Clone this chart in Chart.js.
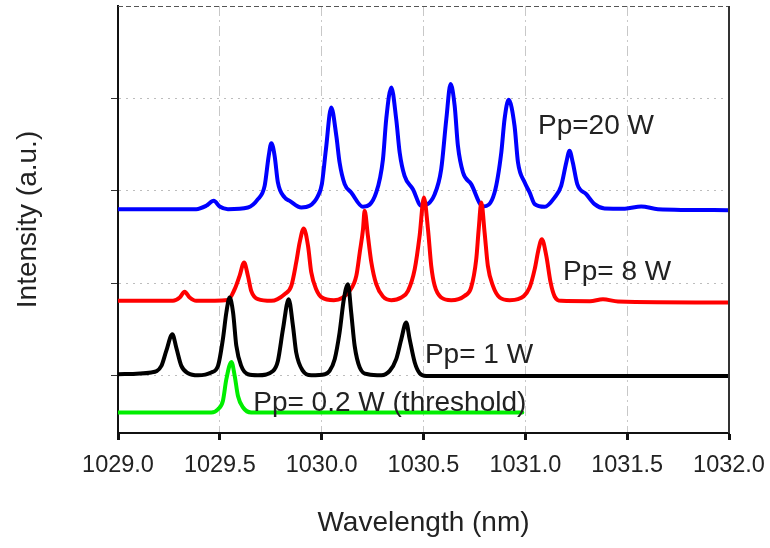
<!DOCTYPE html>
<html>
<head>
<meta charset="utf-8">
<script src="https://cdn.jsdelivr.net/npm/chart.js@4.4.1/dist/chart.umd.min.js"></script>
<style>
html,body{margin:0;padding:0;background:#ffffff;}
#wrap{width:770px;height:548px;position:relative;}
</style>
</head>
<body>
<div id="wrap"><canvas id="c" width="770" height="548"></canvas></div>
<script>
// ---- data: [wavelength (nm), intensity (a.u., offset per trace)] ----
const series20W = [
  [1029.000,1.802],[1029.384,1.802],[1029.433,1.838],[1029.470,1.892],[1029.499,1.831],[1029.540,1.802],
  [1029.638,1.820],[1029.687,1.910],[1029.720,2.054],[1029.740,2.379],[1029.753,2.516],[1029.769,2.379],
  [1029.785,2.091],[1029.818,1.929],[1029.843,1.892],[1029.900,1.820],[1029.941,1.838],[1029.982,1.946],
  [1030.001,2.073],[1030.021,2.451],[1030.047,2.903],[1030.072,2.595],[1030.088,2.307],[1030.113,2.073],
  [1030.145,1.983],[1030.203,1.827],[1030.268,1.983],[1030.301,2.343],[1030.317,2.776],[1030.342,3.119],
  [1030.366,2.776],[1030.383,2.416],[1030.407,2.162],[1030.448,2.018],[1030.489,1.838],[1030.555,1.964],
  [1030.587,2.235],[1030.612,2.776],[1030.633,3.155],[1030.653,2.920],[1030.669,2.487],[1030.694,2.199],
  [1030.734,2.073],[1030.792,1.831],[1030.849,1.983],[1030.882,2.416],[1030.898,2.776],[1030.918,2.985],
  [1030.947,2.703],[1030.964,2.307],[1030.997,2.091],[1031.021,1.983],[1031.046,1.856],[1031.095,1.827],
  [1031.144,1.929],[1031.176,2.054],[1031.201,2.307],[1031.217,2.433],[1031.233,2.307],[1031.255,2.073],
  [1031.299,1.964],[1031.340,1.856],[1031.389,1.810],[1031.489,1.807],[1031.569,1.831],[1031.651,1.802],
  [1032.000,1.791]
];
const series8W = [
  [1029.000,0.810],[1029.270,0.810],[1029.303,0.846],[1029.327,0.907],[1029.352,0.846],[1029.384,0.810],
  [1029.540,0.820],[1029.573,0.936],[1029.597,1.080],[1029.619,1.225],[1029.638,1.080],[1029.654,0.918],
  [1029.687,0.828],[1029.753,0.810],[1029.818,0.882],[1029.851,0.972],[1029.875,1.225],[1029.892,1.442],
  [1029.912,1.593],[1029.933,1.405],[1029.949,1.117],[1029.973,0.936],[1030.001,0.846],[1030.060,0.817],
  [1030.137,0.918],[1030.170,1.080],[1030.187,1.333],[1030.203,1.585],[1030.211,1.784],[1030.227,1.513],
  [1030.244,1.225],[1030.268,0.990],[1030.301,0.857],[1030.342,0.817],[1030.391,0.846],[1030.424,0.918],
  [1030.457,1.153],[1030.481,1.513],[1030.502,1.929],[1030.522,1.585],[1030.538,1.188],[1030.555,0.972],
  [1030.587,0.846],[1030.636,0.817],[1030.702,0.864],[1030.734,0.955],[1030.759,1.261],[1030.771,1.585],
  [1030.784,1.874],[1030.800,1.550],[1030.816,1.188],[1030.841,0.972],[1030.874,0.846],[1030.923,0.817],
  [1030.964,0.828],[1031.021,0.955],[1031.046,1.153],[1031.065,1.369],[1031.081,1.477],[1031.103,1.297],
  [1031.124,1.009],[1031.144,0.857],[1031.176,0.810],[1031.317,0.806],[1031.381,0.828],[1031.455,0.803],
  [1032.000,0.792]
];
const series1W = [
  [1029.000,0.016],[1029.163,0.035],[1029.213,0.106],[1029.237,0.268],[1029.267,0.449],[1029.286,0.305],
  [1029.311,0.106],[1029.344,0.027],[1029.393,0.005],[1029.458,0.035],[1029.491,0.106],[1029.515,0.395],
  [1029.532,0.684],[1029.548,0.846],[1029.565,0.684],[1029.581,0.323],[1029.605,0.106],[1029.638,0.016],
  [1029.687,0.005],[1029.761,0.052],[1029.785,0.160],[1029.810,0.503],[1029.838,0.828],[1029.859,0.539],
  [1029.875,0.251],[1029.908,0.052],[1029.949,0.005],[1030.016,0.016],[1030.039,0.052],[1030.064,0.179],
  [1030.088,0.468],[1030.109,0.828],[1030.129,0.990],[1030.145,0.684],[1030.162,0.323],[1030.187,0.089],
  [1030.227,0.016],[1030.293,0.005],[1030.334,0.052],[1030.366,0.179],[1030.391,0.395],[1030.415,0.576],
  [1030.432,0.395],[1030.457,0.143],[1030.481,0.027],[1030.513,-0.002],[1032.000,-0.002]
];
const series02W = [
  [1029.000,-0.398],[1029.458,-0.398],[1029.491,-0.363],[1029.515,-0.273],[1029.532,-0.038],
  [1029.557,0.149],[1029.573,-0.002],[1029.589,-0.219],[1029.614,-0.344],[1029.654,-0.398],
  [1030.985,-0.398]
];
const xTickValues = [1029.0,1029.5,1030.0,1030.5,1031.0,1031.5,1032.0];
const yTickValues = [0,1,2,3];
const traceLabels = ['Pp=20 W','Pp= 8 W','Pp= 1 W','Pp= 0.2 W (threshold)'];
const labelAnchors = [[1031.062,2.614],[1031.185,1.037],[1030.507,0.135],[1029.664,-0.387]];

const FONT = "'Liberation Sans', Arial, Helvetica, sans-serif";
Chart.defaults.font.family = FONT;

function toXY(arr){ return arr.map(p => ({x:p[0], y:p[1]})); }
function ds(arr, color){
  return {data: toXY(arr), borderColor: color, backgroundColor: color, borderWidth: 4,
          pointRadius: 0, fill: false, cubicInterpolationMode: 'monotone',
          borderJoinStyle: 'round', borderCapStyle: 'round'};
}

const overlayPlugin = {
  id: 'overlay',
  afterDatasetsDraw(chart){
    const {ctx, chartArea:a, scales} = chart;
    ctx.save();
    ctx.strokeStyle = '#555';
    ctx.lineWidth = 1;
    ctx.setLineDash([5,3]);
    ctx.beginPath(); ctx.moveTo(a.left, a.top + 0.5); ctx.lineTo(a.right, a.top + 0.5); ctx.stroke();
    ctx.setLineDash([]);
    ctx.strokeStyle = '#333';
    ctx.lineWidth = 2;
    ctx.beginPath(); ctx.moveTo(a.right, a.top); ctx.lineTo(a.right, a.bottom); ctx.stroke();
    ctx.fillStyle = '#222';
    ctx.font = "28px " + FONT;
    ctx.textAlign = 'left';
    ctx.textBaseline = 'alphabetic';
    traceLabels.forEach((t, i) => {
      const px = scales.x.getPixelForValue(labelAnchors[i][0]);
      const py = scales.y.getPixelForValue(labelAnchors[i][1]);
      ctx.fillText(t, px, py);
    });
    ctx.restore();
  }
};

new Chart(document.getElementById('c'), {
  type: 'line',
  data: {
    datasets: [
      ds(series02W, '#00ee00'),
      ds(series1W, '#000000'),
      ds(series8W, '#ff0000'),
      ds(series20W, '#0000ff')
    ]
  },
  options: {
    responsive: false,
    animation: false,
    devicePixelRatio: 1,
    layout: {padding: {top: 6, right: 41, bottom: 0, left: 0}},
    plugins: {legend: {display: false}, tooltip: {enabled: false}},
    scales: {
      x: {
        type: 'linear', min: 1029, max: 1032,
        afterFit(s){ s.height = 115; s.paddingRight = 0; s.paddingLeft = 0; },
        afterBuildTicks(s){ s.ticks = xTickValues.map(v => ({value: v})); },
        ticks: {
          color: '#222', padding: 11, maxRotation: 0, autoSkip: false,
          font: {size: 23.5},
          callback: v => Number(v).toFixed(1)
        },
        grid: {
          color: '#c8c8c8', lineWidth: 1, drawTicks: true, tickLength: 7,
          tickWidth: 3, tickColor: '#111'
        },
        border: {display: true, color: '#111', width: 2, dash: [10,4,2,4]},
        title: {display: true, text: 'Wavelength (nm)', color: '#222',
                font: {size: 28}, padding: {top: 0, bottom: 8}}
      },
      y: {
        type: 'linear', min: -0.62, max: 4.0,
        afterFit(s){ s.width = 118; },
        afterBuildTicks(s){ s.ticks = yTickValues.map(v => ({value: v})); },
        ticks: {display: false},
        grid: {
          color: '#bdbdbd', lineWidth: 1, drawTicks: true, tickLength: 7,
          tickWidth: 1, tickColor: '#333'
        },
        border: {display: true, color: '#111', width: 2, dash: [2,5]},
        title: {display: true, text: 'Intensity (a.u.)', color: '#222',
                font: {size: 28}, padding: {top: 11, bottom: 0}}
      }
    }
  },
  plugins: [overlayPlugin]
});
</script>
</body>
</html>
